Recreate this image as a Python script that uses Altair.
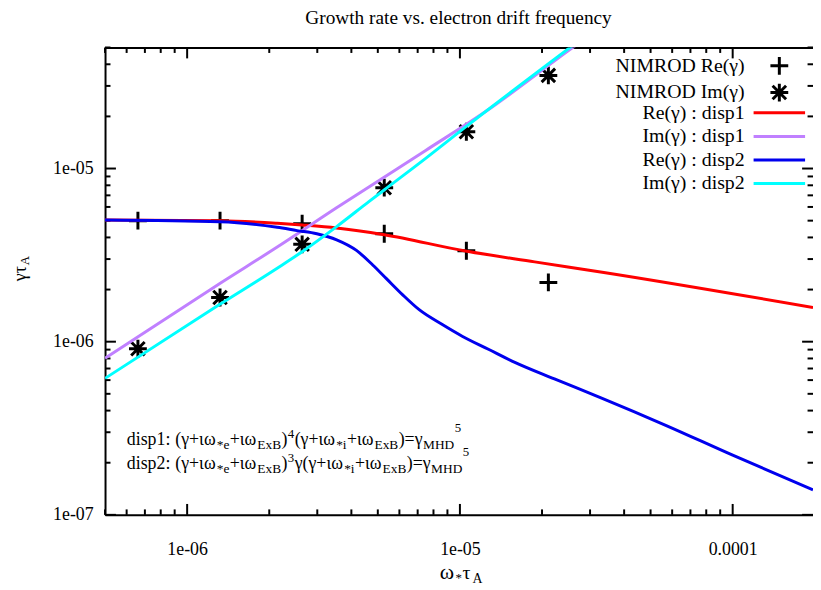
import altair as alt
import pandas as pd

# ---------------- values ----------------
nimrod_x = [6.6e-7, 1.32e-6, 2.64e-6, 5.28e-6, 1.056e-5, 2.11e-5]
nimrod_re = [5.0e-6, 5.0e-6, 4.8e-6, 4.2e-6, 3.35e-6, 2.2e-6]
nimrod_im = [9.1e-7, 1.8e-6, 3.65e-6, 7.75e-6, 1.63e-5, 3.45e-5]

re1_x = [5.0e-7, 1.32e-6, 2.14e-6, 2.64e-6, 3.53e-6, 5.28e-6, 1.047e-5, 1.88e-5, 3.37e-5, 1.97e-4]
re1_y = [5.04e-6, 5.0e-6, 4.83e-6, 4.72e-6, 4.54e-6, 4.15e-6, 3.34e-6, 2.89e-6, 2.51e-6, 1.576e-6]

im1_x = [5.0e-7, 1.318e-6, 2.139e-6, 3.53e-6, 7.49e-6, 1.238e-5, 2.56e-5, 3.0e-5]
im1_y = [8.03e-7, 2.17e-6, 3.52e-6, 5.93e-6, 1.272e-5, 2.125e-5, 4.93e-5, 5.9e-5]

re2_x = [5.0e-7, 1.32e-6, 2.139e-6, 2.528e-6, 2.988e-6, 3.533e-6, 4.176e-6, 4.8e-6, 5.366e-6,
         6.17e-6, 7.09e-6, 8.62e-6, 1.019e-5, 1.272e-5, 1.59e-5, 2.221e-5, 3.29e-5, 5.71e-5,
         1.0e-4, 1.97e-4]
re2_y = [5.04e-6, 4.93e-6, 4.576e-6, 4.381e-6, 4.2e-6, 3.878e-6, 3.368e-6, 2.765e-6, 2.321e-6,
         1.864e-6, 1.53e-6, 1.256e-6, 1.076e-6, 9.04e-7, 7.59e-7, 6.09e-7, 4.74e-7, 3.28e-7,
         2.21e-7, 1.395e-7]

im2_x = [5.0e-7, 1.318e-6, 2.139e-6, 2.637e-6, 3.533e-6, 4.65e-6, 5.275e-6, 7.49e-6, 1.047e-5,
         2.56e-5, 3.0e-5]
im2_y = [6.14e-7, 1.644e-6, 2.658e-6, 3.303e-6, 4.62e-6, 6.46e-6, 7.52e-6, 1.145e-5, 1.733e-5,
         5.06e-5, 6.1e-5]

point_names = ["NIMROD Re(γ)", "NIMROD Im(γ)"]
line_names = ["Re(γ) : disp1", "Im(γ) : disp1", "Re(γ) : disp2", "Im(γ) : disp2"]
line_colors = ["#ff0000", "#c080ff", "#0000ee", "#00ffff"]

x_major = [1e-6, 1e-5, 1e-4]
x_major_labels = ["1e-06", "1e-05", "0.0001"]
x_minor = [5e-7, 6e-7, 7e-7, 8e-7, 9e-7,
           2e-6, 3e-6, 4e-6, 5e-6, 6e-6, 7e-6, 8e-6, 9e-6,
           2e-5, 3e-5, 4e-5, 5e-5, 6e-5, 7e-5, 8e-5, 9e-5]
y_major = [1e-7, 1e-6, 1e-5]
y_major_labels = ["1e-07", "1e-06", "1e-05"]
y_minor = [2e-7, 3e-7, 4e-7, 5e-7, 6e-7, 7e-7, 8e-7, 9e-7,
           2e-6, 3e-6, 4e-6, 5e-6, 6e-6, 7e-6, 8e-6, 9e-6,
           2e-5, 3e-5, 4e-5, 5e-5]

title_text = "Growth rate vs. electron drift frequency"
disp1_parts = [("disp1: ", "n"), ("(γ+ιω", "n"), ("*e", "b"), ("+ιω", "n"), ("ExB", "b"),
               (")", "n"), ("4", "p"), ("(γ+ιω", "n"), ("*i", "b"), ("+ιω", "n"), ("ExB", "b"),
               (")=γ", "n"), ("MHD", "b"), ("5", "P")]
disp2_parts = [("disp2: ", "n"), ("(γ+ιω", "n"), ("*e", "b"), ("+ιω", "n"), ("ExB", "b"),
               (")", "n"), ("3", "p"), ("γ(γ+ιω", "n"), ("*i", "b"), ("+ιω", "n"), ("ExB", "b"),
               (")=γ", "n"), ("MHD", "b"), ("5", "P")]

# ---------------- layout / style ----------------
W, H = 715, 472
OX, OY = 106, 45  # page position of plot origin
FONT = "Liberation Serif"
PLUS = "M-0.9,0H0.9M0,-0.9V0.9"
STAR = "M-0.9,0H0.9M0,-0.9V0.9M-0.68,-0.68L0.68,0.68M-0.68,0.68L0.68,-0.68"
LINE = "M-2.6,0H2.6"

xs = alt.Scale(type="log", domain=[5e-7, 1.97e-4])
ys = alt.Scale(type="log", domain=[1e-7, 5e-5])
shape_scale = alt.Scale(domain=point_names, range=[PLUS, STAR])
color_scale = alt.Scale(domain=line_names, range=line_colors)


def label_expr(vals, labels):
    parts = [f"abs(log(datum.value) - log({v})) < 0.01 ? '{l}'" for v, l in zip(vals, labels)]
    return " : ".join(parts) + " : ''"


legend_common = dict(title=None, orient="none", legendX=669.5,
                     labelAlign="right", labelOffset={"expr": "-46.5"}, labelFont=FONT,
                     labelFontSize=20, labelColor="black", labelBaseline="middle",
                     labelLimit=400, symbolStrokeWidth=3, symbolSize=400, padding=0)
point_legend = alt.Legend(legendY=7, rowPadding={"expr": "-6.7"}, symbolStrokeColor="black",
                          symbolFillColor="transparent", **legend_common)
line_legend = alt.Legend(legendY=54.5, rowPadding=1.8, symbolType=LINE, **legend_common)

xaxis = alt.Axis(values=x_major, labelExpr=label_expr(x_major, x_major_labels), orient="bottom",
                 title=None, ticks=False, tickSize=0, grid=False, domain=True,
                 domainColor="black", domainWidth=2, labelFont=FONT, labelFontSize=18,
                 labelColor="black", labelPadding=26, labelFlush=False, labelOverlap=False)
yaxis = alt.Axis(values=y_major, labelExpr=label_expr(y_major, y_major_labels), orient="left",
                 title=None, ticks=False, tickSize=0, grid=False, domain=True,
                 domainColor="black", domainWidth=2, labelFont=FONT, labelFontSize=18,
                 labelColor="black", labelPadding=12, labelFlush=False, labelOverlap=False)
top_axis = alt.Axis(orient="top", labels=False, ticks=False, tickSize=0, grid=False,
                    domain=True, domainColor="black", domainWidth=2, title=None)

# ---------------- data tables ----------------
pts = pd.concat([
    pd.DataFrame({"x": nimrod_x, "y": nimrod_re, "series": point_names[0]}),
    pd.DataFrame({"x": nimrod_x, "y": nimrod_im, "series": point_names[1]}),
])
line_tables = [
    pd.DataFrame({"x": re1_x, "y": re1_y, "series": line_names[0]}),
    pd.DataFrame({"x": im1_x, "y": im1_y, "series": line_names[1]}),
    pd.DataFrame({"x": re2_x, "y": re2_y, "series": line_names[2]}),
    pd.DataFrame({"x": im2_x, "y": im2_y, "series": line_names[3]}),
]

layers = []


def xticks(vals, length, top, axis=None):
    y0, y1 = (0, length) if top else (H, H - length)
    return alt.Chart(pd.DataFrame({"v": vals})).mark_rule(color="black", strokeWidth=2).encode(
        x=alt.X("v:Q", scale=xs, axis=axis), y=alt.value(y0), y2=alt.value(y1))


def yticks(vals, length, right):
    x0, x1 = (W, W - length) if right else (0, length)
    return alt.Chart(pd.DataFrame({"v": vals})).mark_rule(color="black", strokeWidth=2).encode(
        y=alt.Y("v:Q", scale=ys, axis=None), x=alt.value(x0), x2=alt.value(x1))


layers += [xticks(x_major, 11, False), xticks(x_minor, 5.5, False),
           xticks(x_major, 11, True, top_axis), xticks(x_minor, 5.5, True),
           yticks(y_major, 11, False), yticks(y_minor, 5.5, False),
           yticks(y_major, 11, True), yticks(y_minor, 5.5, True)]

points = alt.Chart(pts).mark_point(filled=False, size=400, strokeWidth=3, opacity=1, clip=True,
                                   color="black").encode(
    x=alt.X("x:Q", scale=xs, axis=xaxis),
    y=alt.Y("y:Q", scale=ys, axis=yaxis),
    shape=alt.Shape("series:N", scale=shape_scale, legend=point_legend),
)
layers.append(points)

for tbl in line_tables:
    layers.append(alt.Chart(tbl).mark_line(strokeWidth=3, clip=True, interpolate="monotone").encode(
        x=alt.X("x:Q", scale=xs, axis=None),
        y=alt.Y("y:Q", scale=ys, axis=None),
        color=alt.Color("series:N", scale=color_scale, legend=line_legend),
    ))

# ---------------- text (page coordinates) ----------------
EM = {'d': .5, 'i': .278, 's': .389, 'p': .5, '1': .5, '2': .5, '3': .5, '4': .5, '5': .5,
      ':': .278, ' ': .25, '(': .333, ')': .333, '+': .564, '=': .564, '*': .5, 'e': .444,
      'E': .611, 'x': .5, 'B': .667, 'M': .889, 'H': .722, 'D': .722,
      'γ': .45, 'ι': .28, 'ω': .68}
STYLE = {"n": (18, 0), "b": (13.5, 4), "p": (13, -7), "P": (13, -13)}


def chain(parts, x0, base):
    out, x = [], x0
    for t, k in parts:
        fs, dy = STYLE[k]
        out.append((t, x, base + dy, fs))
        x += sum(EM.get(c, .5) for c in t) * fs + 0.4
    return out


texts = chain(disp1_parts, 128, 446) + chain(disp2_parts, 128, 471)
texts += [("ω", 444, 582, 22), ("*", 460, 585, 13), ("τ", 467, 582, 20), ("A", 477, 586, 14)]

one = pd.DataFrame({"k": [0]})
for t, px, py, fs in texts:
    layers.append(alt.Chart(one).mark_text(align="left", baseline="alphabetic", font=FONT,
                                           fontSize=fs, color="black").encode(
        x=alt.value(px - OX), y=alt.value(py - OY), text=alt.value(t)))

# title
layers.append(alt.Chart(one).mark_text(align="center", baseline="alphabetic", font=FONT,
                                       fontSize=19.5, color="black").encode(
    x=alt.value(463 - OX), y=alt.value(21 - OY), text=alt.value(title_text)))

# y-axis title (rotated)
for t, px, py, fs in [("γτ", 26, 281, 18), ("A", 29, 265, 13)]:
    layers.append(alt.Chart(one).mark_text(align="left", baseline="alphabetic", font=FONT,
                                           fontSize=fs, angle=270, color="black").encode(
        x=alt.value(px - OX), y=alt.value(py - OY), text=alt.value(t)))

chart = alt.layer(*layers).resolve_axis(x="independent", y="independent").properties(
    width=W, height=H,
    autosize=alt.AutoSizeParams(type="none"),
    padding={"left": OX - 8, "top": OY - 8, "right": 0, "bottom": 72},
).configure_view(stroke=None).configure(font=FONT)

chart.save("out.html", embed_options={"renderer": "svg", "actions": False})
